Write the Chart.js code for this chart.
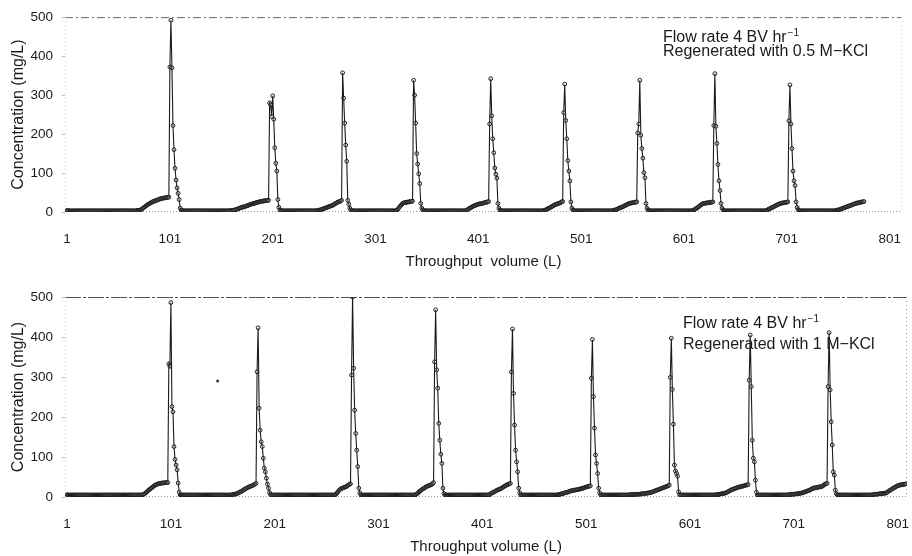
<!DOCTYPE html>
<html>
<head>
<meta charset="utf-8">
<script src="https://cdn.jsdelivr.net/npm/chart.js@4.4.1/dist/chart.umd.min.js"></script>
<style>
  html, body { margin: 0; padding: 0; background: #fff; }
  #wrap { position: relative; width: 912px; height: 556px; }
  canvas { position: absolute; left: 0; }
  #topChart { top: 0; width: 912px; height: 272px; }
  #bottomChart { top: 272px; width: 912px; height: 284px; }
</style>
</head>
<body>
<div id="wrap">
  <canvas id="topChart" width="912" height="272"></canvas>
  <canvas id="bottomChart" width="912" height="284"></canvas>
</div>
<script>
// Tick labels
const xTickValues = [1, 101, 201, 301, 401, 501, 601, 701, 801];
const yTickStep = 100;
const yMax = 500;

const xTitle = 'Throughput  volume (L)';
const xTitleBottom = 'Throughput volume (L)';
const yTitle = 'Concentration (mg/L)';
const noteFlow = 'Flow rate 4 BV hr';
const noteFlowSup = '\u22121';
const noteTop = 'Regenerated with 0.5 M\u2212KCl';
const noteBottom = 'Regenerated with 1 M\u2212KCl';

// Effluent concentration (mg/L), one reading per litre from 1 L
// regenerated with 0.5 M KCl
const conc05M = [
  // 1-100
  4,4,3,3,3,3,3,3,3,3, 3,3,3,3,3,3,3,3,3,3, 3,3,3,3,3,3,3,3,3,3, 3,3,3,3,3,3,3,3,3,3,
  3,3,3,3,3,3,3,3,3,3, 3,3,3,3,3,3,3,3,3,3, 3,3,3,3,3,3,3,3,4,4,
  4,5,6,8,10,12,14,16,18,20, 21,23,24,26,27,28,29,30,31,32, 33,34,35,35,36,36,37,37,38,38,
  // 101-200
  372,492,370,222,160,112,82,62,48,32, 10,5,4,3,3,3,3,3,3,3,
  3,3,3,3,3,3,3,3,3,3, 3,3,3,3,3,3,3,3,3,3, 3,3,3,3,3,3,3,3,3,3, 3,3,3,3,3,3,3,3,3,4,
  4,4,5,5,6,7,8,9,10,11, 12,13,13,14,15,16,17,18,19,20, 21,21,22,23,24,25,25,26,27,27,
  28,28,29,29,29,30,30,280,275,245,
  // 201-300
  298,238,165,125,105,32,12,5,4,3, 3,3,3,3,3,3,3,3,3,3, 3,3,3,3,3,3,3,3,3,3, 3,3,3,3,3,3,3,3,3,3,
  3,3,3,4,4,5,5,6,7,8, 9,10,11,12,13,14,15,16,17,18, 20,22,23,25,26,27,28,30,357,292,
  228,172,130,30,20,10,5,4,3,3, 3,3,3,3,3,3,3,3,3,3, 3,3,3,3,3,3,3,3,3,3,
  // 301-400
  3,3,3,3,3,3,3,3,3,3, 3,3,3,3,3,3,3,3,3,3, 3,5,8,12,15,18,21,23,24,24,
  25,25,26,26,27,27,28,338,300,228, 150,123,98,73,22,10,5,4,3,3,
  3,3,3,3,3,3,3,3,3,3, 3,3,3,3,3,3,3,3,3,3, 3,3,3,3,3,3,3,3,3,3,
  3,3,3,3,3,3,3,3,4,5, 7,9,10,12,13,15,16,17,18,19,
  // 401-500
  20,21,21,22,22,23,24,25,25,26, 27,226,342,247,188,152,113,97,87,22, 10,5,4,3,3,3,3,3,3,3,
  3,3,3,3,3,3,3,3,3,3, 3,3,3,3,3,3,3,3,3,3, 3,3,3,3,3,3,3,3,3,3,
  3,3,3,3,4,5,6,8,9,10, 12,13,15,16,18,19,20,21,22,23, 24,26,27,255,328,235,188,132,105,80,
  26,10,5,4,3,3,3,3,3,3,
  // 501-600
  3,3,3,3,3,3,3,3,3,3, 3,3,3,3,3,3,3,3,3,3, 3,3,3,3,3,3,3,3,3,3,
  3,4,5,5,6,7,9,10,11,12, 13,14,16,17,18,20,21,22,23,23, 24,24,25,25,26,203,226,338,197,163,
  138,101,88,22,10,5,4,3,3,3, 3,3,3,3,3,3,3,3,3,3, 3,3,3,3,3,3,3,3,3,3, 3,3,3,3,3,3,3,3,3,3,
  // 601-700
  3,3,3,3,3,3,3,3,3,4, 6,8,9,11,13,15,17,19,21,22, 22,23,23,24,24,24,25,25,26,222,
  355,220,176,122,80,55,22,10,5,3, 3,3,3,3,3,3,3,3,3,3, 3,3,3,3,3,3,3,3,3,3,
  3,3,3,3,3,3,3,3,3,3, 3,3,3,3,3,3,3,3,3,3, 4,5,7,8,9,11,12,13,15,16,
  17,19,20,21,22,23,23,24,24,25,
  // 701-776
  25,26,234,326,226,163,105,80,68,26, 12,6,4,3,3,3,3,3,3,3, 3,3,3,3,3,3,3,3,3,3,
  3,3,3,3,3,3,3,3,3,3, 3,3,3,3,3,3,3,3,4,5, 5,6,7,8,9,10,11,12,13,14,
  15,16,17,18,19,20,21,22,23,23, 24,25,25,26,26,27
];

// regenerated with 1 M KCl
const conc1M = [
  // 1-100
  6,5,5,5,5,5,5,5,5,5, 5,5,5,5,5,5,5,5,5,5, 5,5,5,5,5,5,5,5,5,5, 5,5,5,5,5,5,5,5,5,5,
  5,5,5,5,5,5,5,5,5,5, 5,5,5,5,5,5,5,5,5,5, 5,5,5,5,5,5,5,5,5,5,
  5,5,5,6,7,9,11,13,16,18, 20,22,24,26,28,30,31,32,33,34, 34,35,35,35,36,36,36,36,333,327,
  // 101-200
  486,226,213,126,94,80,68,35,12,5, 5,5,5,5,5,5,5,5,5,5, 5,5,5,5,5,5,5,5,5,5,
  5,5,5,5,5,5,5,5,5,5, 5,5,5,5,5,5,5,5,5,5, 5,5,5,5,5,5,5,5,5,6,
  6,7,7,8,9,10,12,13,14,16, 18,19,21,22,24,25,26,27,28,29, 31,32,34,313,423,222,167,138,126,97,
  72,63,47,32,22,11,6,5,5,5,
  // 201-300
  5,5,5,5,5,5,5,5,5,5, 5,5,5,5,5,5,5,5,5,5, 5,5,5,5,5,5,5,5,5,5, 5,5,5,5,5,5,5,5,5,5,
  5,5,5,5,5,5,5,5,5,5, 5,5,5,5,5,5,5,5,5,7, 10,13,17,19,21,22,23,24,25,26,
  28,30,32,33,305,500,322,217,159,117, 76,22,10,5,5,5,5,5,5,5, 5,5,5,5,5,5,5,5,5,5,
  // 301-400
  5,5,5,5,5,5,5,5,5,5, 5,5,5,5,5,5,5,5,5,5, 5,5,5,5,5,5,5,5,5,5,
  5,5,5,5,5,5,6,8,10,13, 15,17,19,21,22,24,26,27,28,29, 30,31,33,36,338,468,318,272,184,142,
  107,84,22,9,5,5,5,5,5,5, 5,5,5,5,5,5,5,5,5,5, 5,5,5,5,5,5,5,5,5,5, 5,5,5,5,5,5,5,5,5,5,
  // 401-500
  5,5,5,5,5,5,5,6,8,10, 11,12,14,15,17,18,19,20,21,23, 25,26,28,29,31,32,33,34,313,420,
  259,180,117,88,63,22,10,5,5,5, 5,5,5,5,5,5,5,5,5,5, 5,5,5,5,5,5,5,5,5,5,
  5,5,5,5,5,5,5,5,5,5, 5,5,5,6,6,7,8,8,9,10, 11,11,12,13,14,15,16,16,17,17,
  18,18,19,19,20,21,21,22,23,24,
  // 501-600
  25,26,26,27,28,297,394,251,172,105, 84,59,22,10,5,5,5,5,5,5, 5,5,5,5,5,5,5,5,5,5,
  5,5,5,5,5,5,5,5,5,5, 5,5,6,6,6,6,6,6,7,7, 7,7,7,8,8,8,9,9,9,10,
  10,11,11,12,13,14,15,16,17,18, 19,20,21,22,23,24,25,26,27,28, 30,299,397,269,182,80,65,59,52,13,
  6,5,5,5,5,5,5,5,5,5,
  // 601-700
  5,5,5,5,5,5,5,5,5,5, 5,5,5,5,5,5,5,5,5,5, 5,5,5,5,5,6,6,6,7,7,
  8,8,9,9,10,11,12,14,15,17, 18,19,20,21,22,23,24,25,25,26, 27,27,28,29,30,30,31,292,405,276,
  142,97,88,42,12,5,5,5,5,5, 5,5,5,5,5,5,5,5,5,5, 5,5,5,5,5,5,5,5,5,5,
  5,5,5,5,5,6,6,6,7,7,
  // 701-809
  7,7,8,8,8,9,9,10,10,11, 12,13,14,15,16,17,18,20,21,22, 23,23,24,24,25,25,26,26,28,30,
  32,33,34,276,411,268,188,130,63,55, 17,8,5,5,5,5,5,5,5,5,
  5,5,5,5,5,5,5,5,5,5, 5,5,5,5,5,5,5,5,5,5, 5,5,5,5,5,5,6,6,7,7,
  7,7,8,8,8,9,9,9,10,10, 12,14,16,17,19,21,22,24,25,27, 28,29,30,30,31,31,32,32,33
];

// a stray speck in the lower panel
const strayX = [146];
const strayY = [290];

Chart.defaults.font.family = '"Liberation Sans", Arial, sans-serif';
Chart.defaults.color = '#1a1a1a';

function toPoints(values) {
    return values.map((v, i) => ({ x: i + 1, y: v }));
}

// dashed plot frame like the scanned figure
const framePlugin = {
    id: 'frame',
    beforeDatasetsDraw(chart, args, opts) {
        const { ctx, chartArea: a } = chart;
        const seg = (x1, y1, x2, y2, color, dash) => {
            ctx.strokeStyle = color;
            ctx.setLineDash(dash);
            ctx.beginPath();
            ctx.moveTo(x1, y1);
            ctx.lineTo(x2, y2);
            ctx.stroke();
        };
        ctx.save();
        ctx.lineWidth = 1;
        seg(a.left, a.top + 0.5, a.right, a.top + 0.5, opts.topColor, opts.topDash);
        seg(a.right - 0.5, a.top, a.right - 0.5, a.bottom, opts.sideColor, [1, 3]);
        seg(a.left + 0.5, a.top, a.left + 0.5, a.bottom, '#c8c8c8', [1, 3]);
        seg(a.left, a.bottom - 0.5, a.right, a.bottom - 0.5, '#9a9a9a', [1, 2]);
        ctx.restore();
    }
};

const notePlugin = {
    id: 'note',
    beforeDatasetsDraw(chart, args, opts) {
        const ctx = chart.ctx;
        ctx.save();
        ctx.fillStyle = '#1a1a1a';
        ctx.textBaseline = 'alphabetic';
        ctx.font = '16px "Liberation Sans", Arial, sans-serif';
        ctx.fillText(noteFlow, opts.x, opts.y1);
        const w = ctx.measureText(noteFlow).width;
        ctx.fillText(opts.text, opts.x, opts.y2);
        ctx.font = '10px "Liberation Sans", Arial, sans-serif';
        ctx.fillText(noteFlowSup, opts.x + w + 1, opts.y1 - 6);
        ctx.restore();
    }
};

function makeChart(id, values, cfg) {
    const datasets = [{
        data: toPoints(values),
        borderColor: '#1a1a1a',
        borderWidth: 1.1,
        pointRadius: 1.9,
        pointBorderWidth: 1,
        pointBorderColor: '#1e1e1e',
        pointBackgroundColor: 'rgba(255,255,255,0.15)',
        tension: 0
    }];
    if (cfg.stray) {
        datasets.push({
            data: strayX.map((x, i) => ({ x: x, y: strayY[i] })),
            showLine: false,
            pointRadius: 1.5,
            pointBorderWidth: 0,
            pointBackgroundColor: '#333'
        });
    }
    return new Chart(document.getElementById(id), {
        type: 'line',
        data: { datasets: datasets },
        options: {
            responsive: false,
            animation: false,
            devicePixelRatio: 1,
            layout: { padding: { top: cfg.padTop, right: cfg.padRight, left: 0, bottom: 0 } },
            plugins: {
                legend: { display: false },
                tooltip: { enabled: false },
                frame: { topColor: cfg.topColor, topDash: cfg.topDash, sideColor: cfg.sideColor },
                note: cfg.note
            },
            scales: {
                x: {
                    type: 'linear',
                    min: -1,
                    max: cfg.xMax,
                    afterBuildTicks: axis => { axis.ticks = xTickValues.map(v => ({ value: v })); },
                    afterFit: axis => {
                        axis.height = cfg.xAxisHeight;
                        axis.paddingLeft = 0;
                        axis.paddingRight = 0;
                    },
                    grid: { display: false },
                    border: { display: false },
                    ticks: {
                        padding: 11,
                        maxRotation: 0,
                        font: { size: 13.5 },
                        callback: v => String(v)
                    },
                    title: {
                        display: true,
                        text: cfg.xTitle,
                        font: { size: 15 },
                        padding: { top: 0, bottom: cfg.xTitlePad }
                    }
                },
                y: {
                    min: 0,
                    max: yMax,
                    afterFit: axis => { axis.width = 65; },
                    grid: {
                        drawOnChartArea: false,
                        drawTicks: true,
                        tickLength: 3,
                        tickColor: '#bdbdbd'
                    },
                    border: { display: false },
                    ticks: { stepSize: yTickStep, padding: 9, font: { size: 13.5 } },
                    title: {
                        display: true,
                        text: yTitle,
                        font: { size: 16 },
                        padding: { top: 9, bottom: 0 }
                    }
                }
            }
        },
        plugins: [framePlugin, notePlugin]
    });
}

makeChart('topChart', conc05M, {
    padTop: 12, padRight: 10, xMax: 813, xAxisHeight: 60, xTitlePad: 1,
    xTitle: xTitle,
    topColor: '#6a6a6a', topDash: [8, 3, 2, 3], sideColor: '#d0d0d0',
    note: { x: 663, y1: 42, y2: 56, text: noteTop }
});

makeChart('bottomChart', conc1M, {
    padTop: 25, padRight: 5, xMax: 810, xAxisHeight: 59, xTitlePad: 0,
    xTitle: xTitleBottom, stray: true,
    topColor: '#555555', topDash: [16, 2, 3, 2], sideColor: '#9a9a9a',
    note: { x: 683, y1: 56, y2: 77, text: noteBottom }
});
</script>
</body>
</html>
